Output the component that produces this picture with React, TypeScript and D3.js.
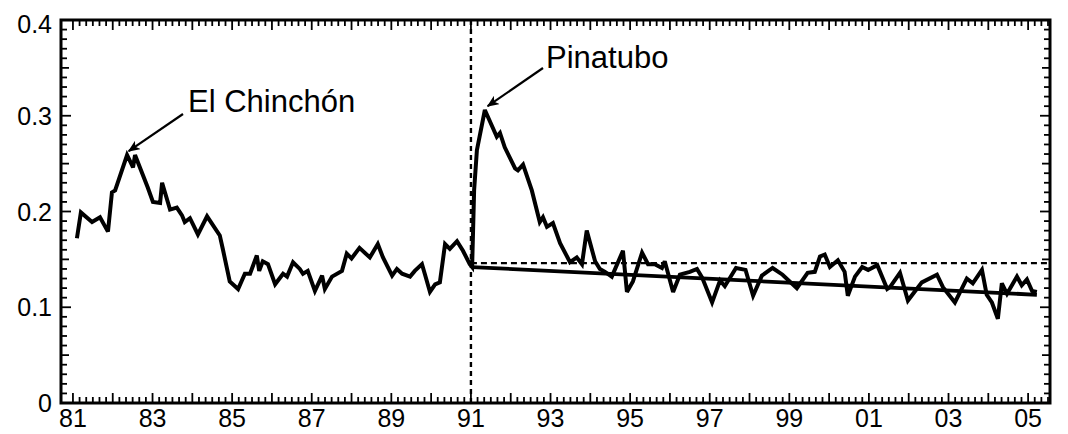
import * as d3 from "d3";

// [decimal year, optical depth]
const chichonEra: [number, number][] = [
  [1981.1, 0.172], [1981.2, 0.199], [1981.48, 0.189], [1981.68, 0.194],
  [1981.88, 0.179], [1981.98, 0.22], [1982.06, 0.222], [1982.36, 0.259],
  [1982.51, 0.246], [1982.56, 0.259], [1982.88, 0.225], [1983.01, 0.21],
  [1983.19, 0.209], [1983.24, 0.23], [1983.44, 0.202], [1983.61, 0.204],
  [1983.74, 0.196], [1983.81, 0.189], [1983.94, 0.193], [1984.14, 0.176],
  [1984.37, 0.195], [1984.69, 0.175], [1984.77, 0.16], [1984.94, 0.127],
];

const quietEra: [number, number][] = [
  [1985.15, 0.119], [1985.32, 0.135], [1985.45, 0.135], [1985.62, 0.154],
  [1985.68, 0.138], [1985.77, 0.148], [1985.9, 0.145], [1986.08, 0.124],
  [1986.28, 0.135], [1986.38, 0.132], [1986.53, 0.147], [1986.7, 0.14],
  [1986.78, 0.135], [1986.9, 0.138], [1987.08, 0.117], [1987.26, 0.133],
  [1987.33, 0.119], [1987.51, 0.132], [1987.76, 0.138], [1987.88, 0.156],
  [1988.0, 0.151], [1988.2, 0.162], [1988.46, 0.152], [1988.66, 0.166],
  [1988.79, 0.152], [1989.02, 0.133], [1989.14, 0.14], [1989.27, 0.135],
  [1989.47, 0.132], [1989.59, 0.138], [1989.77, 0.145], [1989.84, 0.135],
  [1989.97, 0.116], [1990.1, 0.124], [1990.22, 0.126], [1990.35, 0.166],
  [1990.47, 0.161], [1990.65, 0.169], [1990.8, 0.159], [1990.97, 0.145],
];

const pinatuboEra: [number, number][] = [
  [1991.03, 0.142], [1991.08, 0.222], [1991.15, 0.264], [1991.35, 0.306],
  [1991.65, 0.278], [1991.73, 0.282], [1991.85, 0.267], [1992.11, 0.245],
  [1992.18, 0.243], [1992.31, 0.249], [1992.53, 0.222], [1992.73, 0.189],
  [1992.81, 0.194], [1992.91, 0.184], [1993.06, 0.188], [1993.24, 0.167],
  [1993.49, 0.147], [1993.66, 0.152], [1993.79, 0.145], [1993.91, 0.18],
  [1994.12, 0.148],
];

const recentEra: [number, number][] = [
  [1994.24, 0.14], [1994.37, 0.137], [1994.54, 0.132], [1994.82, 0.159],
  [1994.92, 0.116], [1995.07, 0.127], [1995.3, 0.157], [1995.45, 0.145],
  [1995.62, 0.145], [1995.8, 0.141], [1995.87, 0.148], [1996.08, 0.116],
  [1996.25, 0.134], [1996.5, 0.137], [1996.68, 0.14], [1996.81, 0.131],
  [1997.06, 0.105], [1997.26, 0.128], [1997.38, 0.122], [1997.66, 0.141],
  [1997.9, 0.139], [1998.09, 0.112], [1998.31, 0.133], [1998.58, 0.141],
  [1998.83, 0.134], [1999.19, 0.12], [1999.46, 0.136], [1999.64, 0.137],
  [1999.77, 0.153], [1999.89, 0.155], [2000.02, 0.142], [2000.22, 0.149],
  [2000.39, 0.137], [2000.47, 0.112], [2000.65, 0.132], [2000.83, 0.142],
  [2000.98, 0.139], [2001.21, 0.144], [2001.46, 0.119], [2001.53, 0.121],
  [2001.78, 0.136], [2001.98, 0.107], [2002.33, 0.126], [2002.71, 0.134],
  [2002.86, 0.121], [2003.16, 0.105], [2003.46, 0.13], [2003.61, 0.125],
  [2003.84, 0.139], [2003.96, 0.113], [2004.09, 0.105], [2004.24, 0.088],
  [2004.34, 0.125], [2004.47, 0.114], [2004.72, 0.132], [2004.84, 0.123],
  [2004.97, 0.129], [2005.1, 0.117], [2005.22, 0.116],
];

// linear trend after Pinatubo and the pre-eruption reference level
const trendYears = [1991.03, 2005.22];
const trendValues = [0.142, 0.113];
const referenceLevel = 0.146;
const eruptionYear = 1991;

const xLabels = ["81", "83", "85", "87", "89", "91", "93", "95", "97", "99", "01", "03", "05"];
const yLabels = [0, 0.1, 0.2, 0.3, 0.4];

const width = 1068;
const height = 434;
const left = 61;
const right = 1050;
const top = 20;
const bottom = 403;

const App = () => {
  const x = d3.scaleLinear().domain([1980.7, 2005.55]).range([left, right]);
  const y = d3.scaleLinear().domain([0, 0.4]).range([bottom, top]);

  const line = d3
    .line<[number, number]>()
    .x((d) => x(d[0]))
    .y((d) => y(d[1]))
    .curve(d3.curveLinear);

  const series = [...chichonEra, ...quietEra, ...pinatuboEra, ...recentEra];

  // tick positions: every two months along x, every 0.01 along y
  const xTicks = d3.range(1981 * 6, 2005.5 * 6 + 1).map((t) => t / 6).filter((t) => t <= 2005.5);
  const yTicks = d3.range(0, 41).map((i) => i / 100);

  const labelFont = "'Liberation Sans', Arial, Helvetica, sans-serif";

  return (
    <svg
      width={width}
      height={height}
      style={{ position: "absolute", left: 0, top: 0, background: "#fff" }}
    >
      <defs>
        <marker id="head" viewBox="0 0 12 10" refX="11" refY="5" markerWidth="12" markerHeight="10" markerUnits="userSpaceOnUse" orient="auto">
          <path d="M0,0 L12,5 L0,10 L3,5 z" fill="#000" />
        </marker>
      </defs>

      {/* ticks, inward on all four sides */}
      <g stroke="#000" strokeWidth={1.8}>
        {xTicks.map((t, i) => {
          const major = Math.abs(t - Math.round(t)) < 1e-6;
          const len = major ? 10 : 6;
          return (
            <g key={"xt" + i}>
              <line x1={x(t)} x2={x(t)} y1={bottom} y2={bottom - len} />
              <line x1={x(t)} x2={x(t)} y1={top} y2={top + len} />
            </g>
          );
        })}
        {yTicks.map((t, i) => {
          const len = i % 10 === 0 ? 10 : i % 5 === 0 ? 8 : 6;
          return (
            <g key={"yt" + i}>
              <line x1={left} x2={left + len} y1={y(t)} y2={y(t)} />
              <line x1={right} x2={right - len} y1={y(t)} y2={y(t)} />
            </g>
          );
        })}
      </g>

      {/* frame */}
      <rect x={left} y={top} width={right - left} height={bottom - top} fill="none" stroke="#000" strokeWidth={3} />

      {/* eruption marker and reference level */}
      <line x1={x(eruptionYear)} x2={x(eruptionYear)} y1={top} y2={bottom} stroke="#000" strokeWidth={2.4} strokeDasharray="5 4" />
      <line x1={x(eruptionYear)} x2={right} y1={y(referenceLevel)} y2={y(referenceLevel)} stroke="#000" strokeWidth={2.2} strokeDasharray="6 4" />

      {/* trend */}
      <line
        x1={x(trendYears[0])}
        x2={x(trendYears[1])}
        y1={y(trendValues[0])}
        y2={y(trendValues[1])}
        stroke="#000"
        strokeWidth={3.8}
      />

      {/* optical depth series */}
      <path d={line(series) ?? ""} fill="none" stroke="#000" strokeWidth={4} strokeLinejoin="miter" strokeMiterlimit={3} />

      {/* axis labels */}
      <g fontFamily={labelFont} fontSize={25} fill="#000">
        {yLabels.map((v) => (
          <text key={"yl" + v} x={52} y={Math.max(y(v), 24)} dy="0.36em" textAnchor="end">
            {v === 0 ? "0" : v.toFixed(1)}
          </text>
        ))}
        {xLabels.map((l, i) => (
          <text key={"xl" + l} x={x(1981 + i * 2)} y={427} textAnchor="middle">
            {l}
          </text>
        ))}
      </g>

      {/* annotations */}
      <g fontFamily={labelFont} fontSize={31} fill="#000">
        <text x={188} y={112}>El Chinchón</text>
        <text x={546} y={68}>Pinatubo</text>
      </g>
      <line x1={183} y1={114} x2={x(1982.4)} y2={y(0.263)} stroke="#000" strokeWidth={2.2} markerEnd="url(#head)" />
      <line x1={543} y1={68} x2={x(1991.42)} y2={y(0.31)} stroke="#000" strokeWidth={2.2} markerEnd="url(#head)" />
    </svg>
  );
};

export default App;
